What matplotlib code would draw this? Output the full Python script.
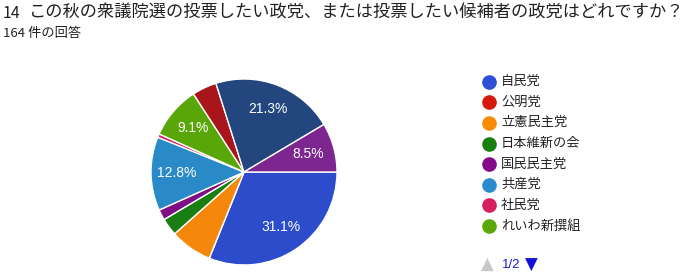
import matplotlib
matplotlib.use("Agg")
import matplotlib.pyplot as plt
from matplotlib.lines import Line2D

plt.rcParams['font.family'] = ['Noto Sans CJK JP', 'DejaVu Sans']

# responses (164 total); slices in drawing order, clockwise from 3 o'clock
parties = ["自民党", "公明党", "立憲民主党", "日本維新の会", "国民民主党",
           "共産党", "社民党", "れいわ新撰組", "その他A", "その他B", "その他C"]
counts = [51, 0, 12, 5, 3, 21, 1, 15, 7, 35, 14]
pie_colors = ["#2d4ccc", "#d01c10", "#f5870a", "#1a7f12", "#7f0f85",
              "#2a8ac8", "#d42060", "#58a608", "#a8161b", "#23467f", "#7d2690"]
legend_colors = ["#2d4fd6", "#d41a0c", "#fb8a05", "#17800f", "#84088a",
                 "#2a8ccd", "#d61f5e", "#5aa80a"]
n_legend = 8

question = "この秋の衆議院選の投票したい政党、または投票したい候補者の政党はどれですか？"
subtitle = "164 件の回答"

W, H = 700, 275
fig = plt.figure(figsize=(W / 100, H / 100), dpi=100)

fig.text(3 / W, 1 - 13 / H, "14", fontsize=11.5, color="#202124", va="center", ha="left")
fig.text(28 / W, 1 - 13 / H, question, fontsize=12.4, color="#202124", va="center", ha="left")
fig.text(3 / W, 1 - 33 / H, subtitle, fontsize=9.5, color="#202124", va="center", ha="left")

# pie
cx, cy, r = 244, 172, 93
ax = fig.add_axes([(cx - r) / W, (H - cy - r) / H, 2 * r / W, 2 * r / H])


def pct_label(p):
    return "%.1f%%" % p if p >= 8 else ""


wedges, texts, autotexts = ax.pie(counts, colors=pie_colors, startangle=0, counterclock=False,
                                  autopct=pct_label, pctdistance=0.72,
                                  wedgeprops=dict(edgecolor="white", linewidth=1.0),
                                  textprops=dict(color="white", fontsize=10,
                                                 family=["Liberation Sans", "DejaVu Sans"]))
ax.set_xlim(-1.0, 1.0)
ax.set_ylim(-1.0, 1.0)
ax.set_aspect("equal")
ax.axis("off")

# legend (page 1 of 2)
y0, dy = 81.7, 20.6
for i in range(n_legend):
    y = 1 - (y0 + i * dy) / H
    fig.add_artist(Line2D([489 / W], [y], marker="o", markersize=9.5, color=legend_colors[i],
                          linestyle="none", transform=fig.transFigure))
    fig.text(501 / W, y, parties[i], fontsize=9.5, color="#222222", va="center", ha="left")

py = 1 - 265 / H
fig.text(487.5 / W, py, "▲", fontsize=12, color="#c8c8c8", va="center", ha="center",
         family="DejaVu Sans")
fig.text(502 / W, py, "1/2", fontsize=9.5, color="#1a1ad0", va="center", ha="left",
         family=["Liberation Sans", "DejaVu Sans"])
fig.text(531.5 / W, py, "▼", fontsize=12, color="#1010d8", va="center", ha="center",
         family="DejaVu Sans")

fig.savefig("out.png", dpi=100, facecolor="white")
